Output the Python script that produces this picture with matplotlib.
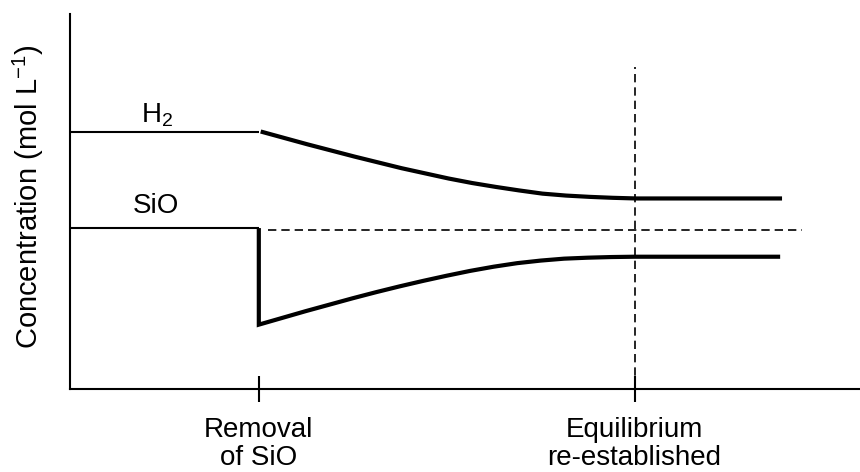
import matplotlib.pyplot as plt
import numpy as np

plt.rcParams["font.family"] = ["Liberation Sans", "DejaVu Sans"]
plt.rcParams["mathtext.fontset"] = "custom"
plt.rcParams["mathtext.rm"] = "Liberation Sans"
plt.rcParams["mathtext.it"] = "Liberation Sans:italic"
plt.rcParams["mathtext.bf"] = "Liberation Sans:bold"

# time axis (arbitrary units): removal of SiO at t=2, equilibrium at t=6
t_removal = 2.0
t_equilibrium = 6.0

h2_initial = 8.0
sio_initial = 5.0

# after disturbance
t_after = [2.0, 2.25, 2.5, 2.75, 3.0, 3.25, 3.5, 3.75, 4.0, 4.25, 4.5,
           4.75, 5.0, 5.25, 5.5, 5.75, 6.0, 7.55]
h2_after = [8.00, 7.80, 7.60, 7.41, 7.22, 7.04, 6.86, 6.70, 6.54, 6.40, 6.28,
            6.17, 6.07, 6.01, 5.97, 5.94, 5.92, 5.92]
sio_after = [2.00, 2.21, 2.42, 2.62, 2.82, 3.01, 3.19, 3.36, 3.52, 3.67, 3.80,
             3.91, 3.99, 4.05, 4.08, 4.10, 4.11, 4.11]

tick_positions = [t_removal, t_equilibrium]
tick_labels = ["Removal\nof SiO", "Equilibrium\nre-established"]

fig = plt.figure(figsize=(8.6, 4.72), dpi=100)
ax = fig.add_axes([0.0814, 0.1758, 0.9186, 0.7945])

# before disturbance (thin)
ax.plot([0, t_removal], [h2_initial, h2_initial], color="black", lw=1.5, solid_capstyle="butt")
ax.plot([0, t_removal], [sio_initial, sio_initial], color="black", lw=1.5, solid_capstyle="butt")

# after disturbance (thick)
ax.plot(np.array(t_after) + 0.02, h2_after, color="black", lw=3, solid_capstyle="butt")
ax.plot([t_removal] + t_after, [sio_initial] + sio_after, color="black", lw=3,
        solid_capstyle="butt", solid_joinstyle="miter")

# reference dashed lines
ax.plot([2.1, 7.78], [4.95, 4.95], color="black", lw=1.2, dashes=(5, 3))
ax.plot([t_equilibrium, t_equilibrium], [0, 10.0], color="black", lw=1.2, dashes=(5, 3))

ax.text(0.915, 8.29, "H$_2$", fontsize=20, ha="center", va="baseline")
ax.text(0.905, 5.47, "SiO", fontsize=20, ha="center", va="baseline")

ax.set_xlim(-0.01, 8.4)
ax.set_ylim(0, 11.65)
for side in ["top", "right"]:
    ax.spines[side].set_visible(False)
for side in ["left", "bottom"]:
    ax.spines[side].set_linewidth(1.5)

ax.set_yticks([])
ax.set_xticks(tick_positions)
ax.set_xticklabels(tick_labels, fontsize=20, linespacing=1.1)
ax.tick_params(axis="x", direction="inout", length=19, width=1.5, pad=11)

fig.text(0.033, 0.584, "Concentration (mol L$^{-1}$)", fontsize=21, rotation=90,
         ha="center", va="center")

fig.savefig("out.png", dpi=100)
